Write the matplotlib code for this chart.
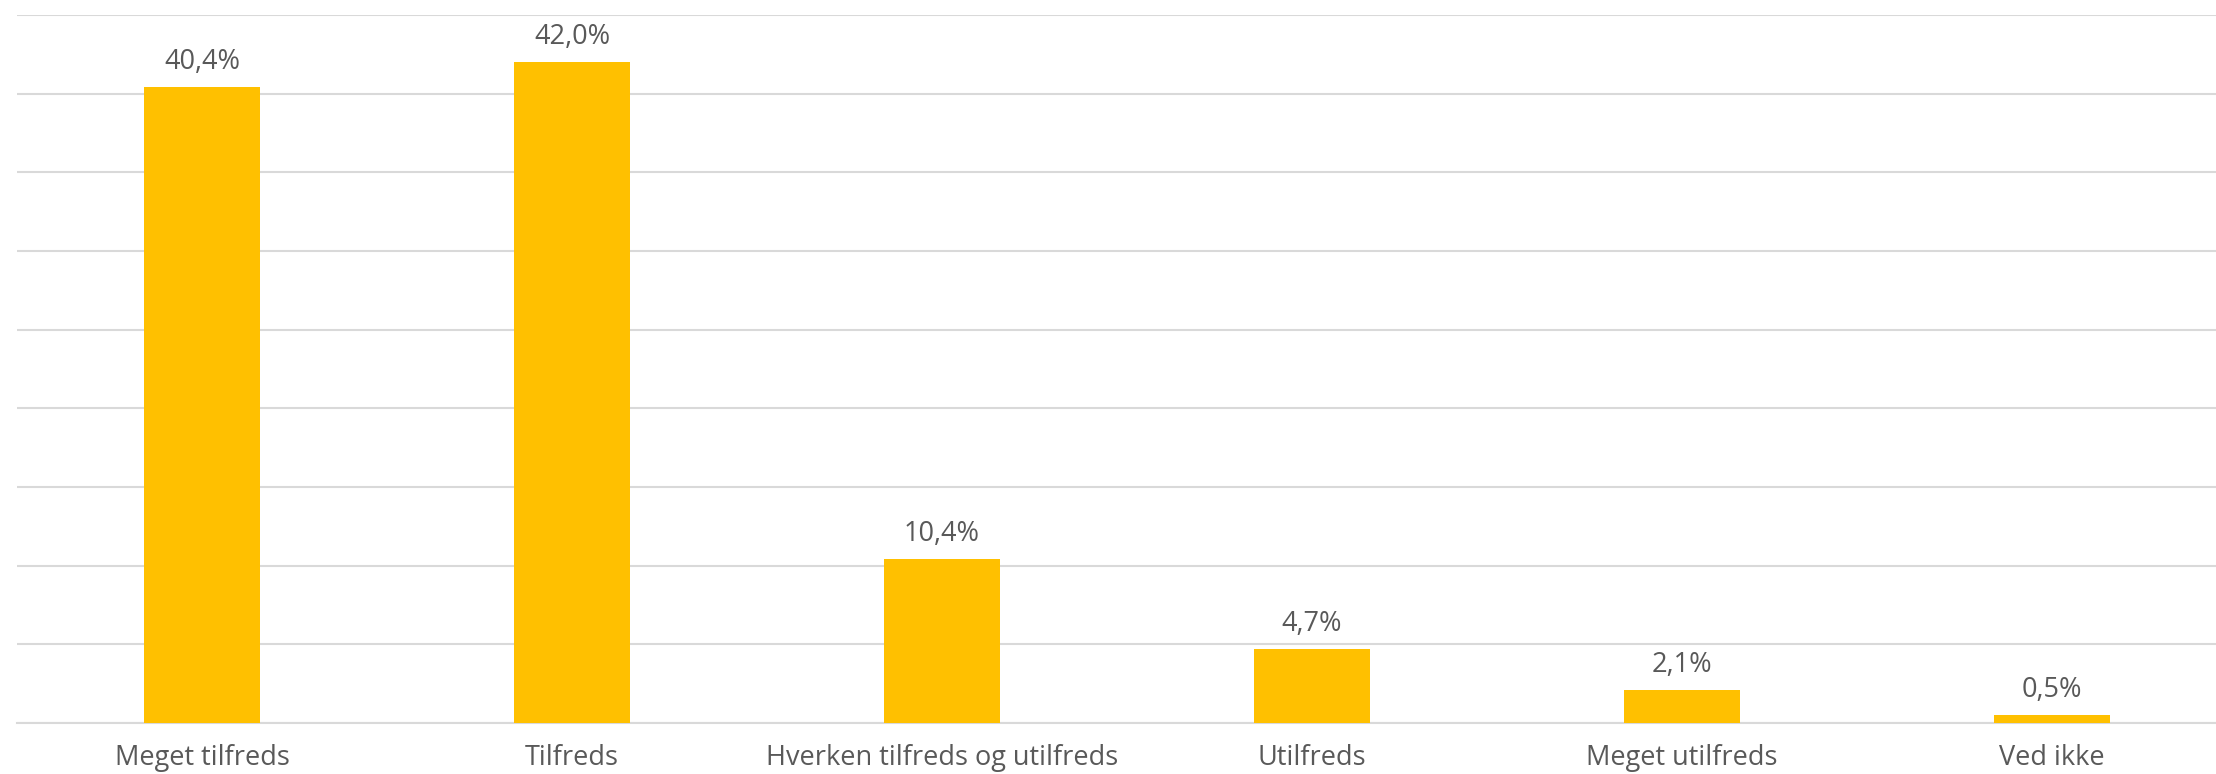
import matplotlib.pyplot as plt
from matplotlib.ticker import MultipleLocator

# Data
categories = ['Meget tilfreds', 'Tilfreds', 'Hverken tilfreds og utilfreds',
              'Utilfreds', 'Meget utilfreds', 'Ved ikke']
values = [40.4, 42.0, 10.4, 4.7, 2.1, 0.5]
labels = ['40,4%', '42,0%', '10,4%', '4,7%', '2,1%', '0,5%']

plt.rcParams['font.family'] = ['Open Sans', 'DejaVu Sans']

fig = plt.figure(figsize=(22.16, 7.74), dpi=100)
W, H = 2216, 774
left, right = 17, 2216
ax = fig.add_axes([left / W, 1 - 723 / H, (right - left) / W, (723 - 15) / H])

x = range(len(categories))
bars = ax.bar(x, values, width=0.315, color='#FFC000', zorder=3)

for b, lab in zip(bars, labels):
    ax.annotate(lab, (b.get_x() + b.get_width() / 2, b.get_height()),
                xytext=(0, 8), textcoords='offset points',
                ha='center', va='bottom', fontsize=19.5, color='#595959')

ax.set_ylim(0, 45)
ax.set_xlim(-0.5, -0.5 + (right - left) / 370)
ax.yaxis.set_major_locator(MultipleLocator(5))
ax.grid(axis='y', color='#D9D9D9', linewidth=1.5, zorder=0)
ax.set_yticklabels([])
ax.tick_params(axis='y', length=0)
ax.tick_params(axis='x', length=0, pad=15, labelsize=19.5, labelcolor='#595959')
ax.set_xticks(list(x))
ax.set_xticklabels(categories)

for s in ['top', 'right', 'left']:
    ax.spines[s].set_visible(False)
ax.spines['bottom'].set_color('#D9D9D9')
ax.spines['bottom'].set_linewidth(1.5)

fig.savefig('out.png', dpi=100)
